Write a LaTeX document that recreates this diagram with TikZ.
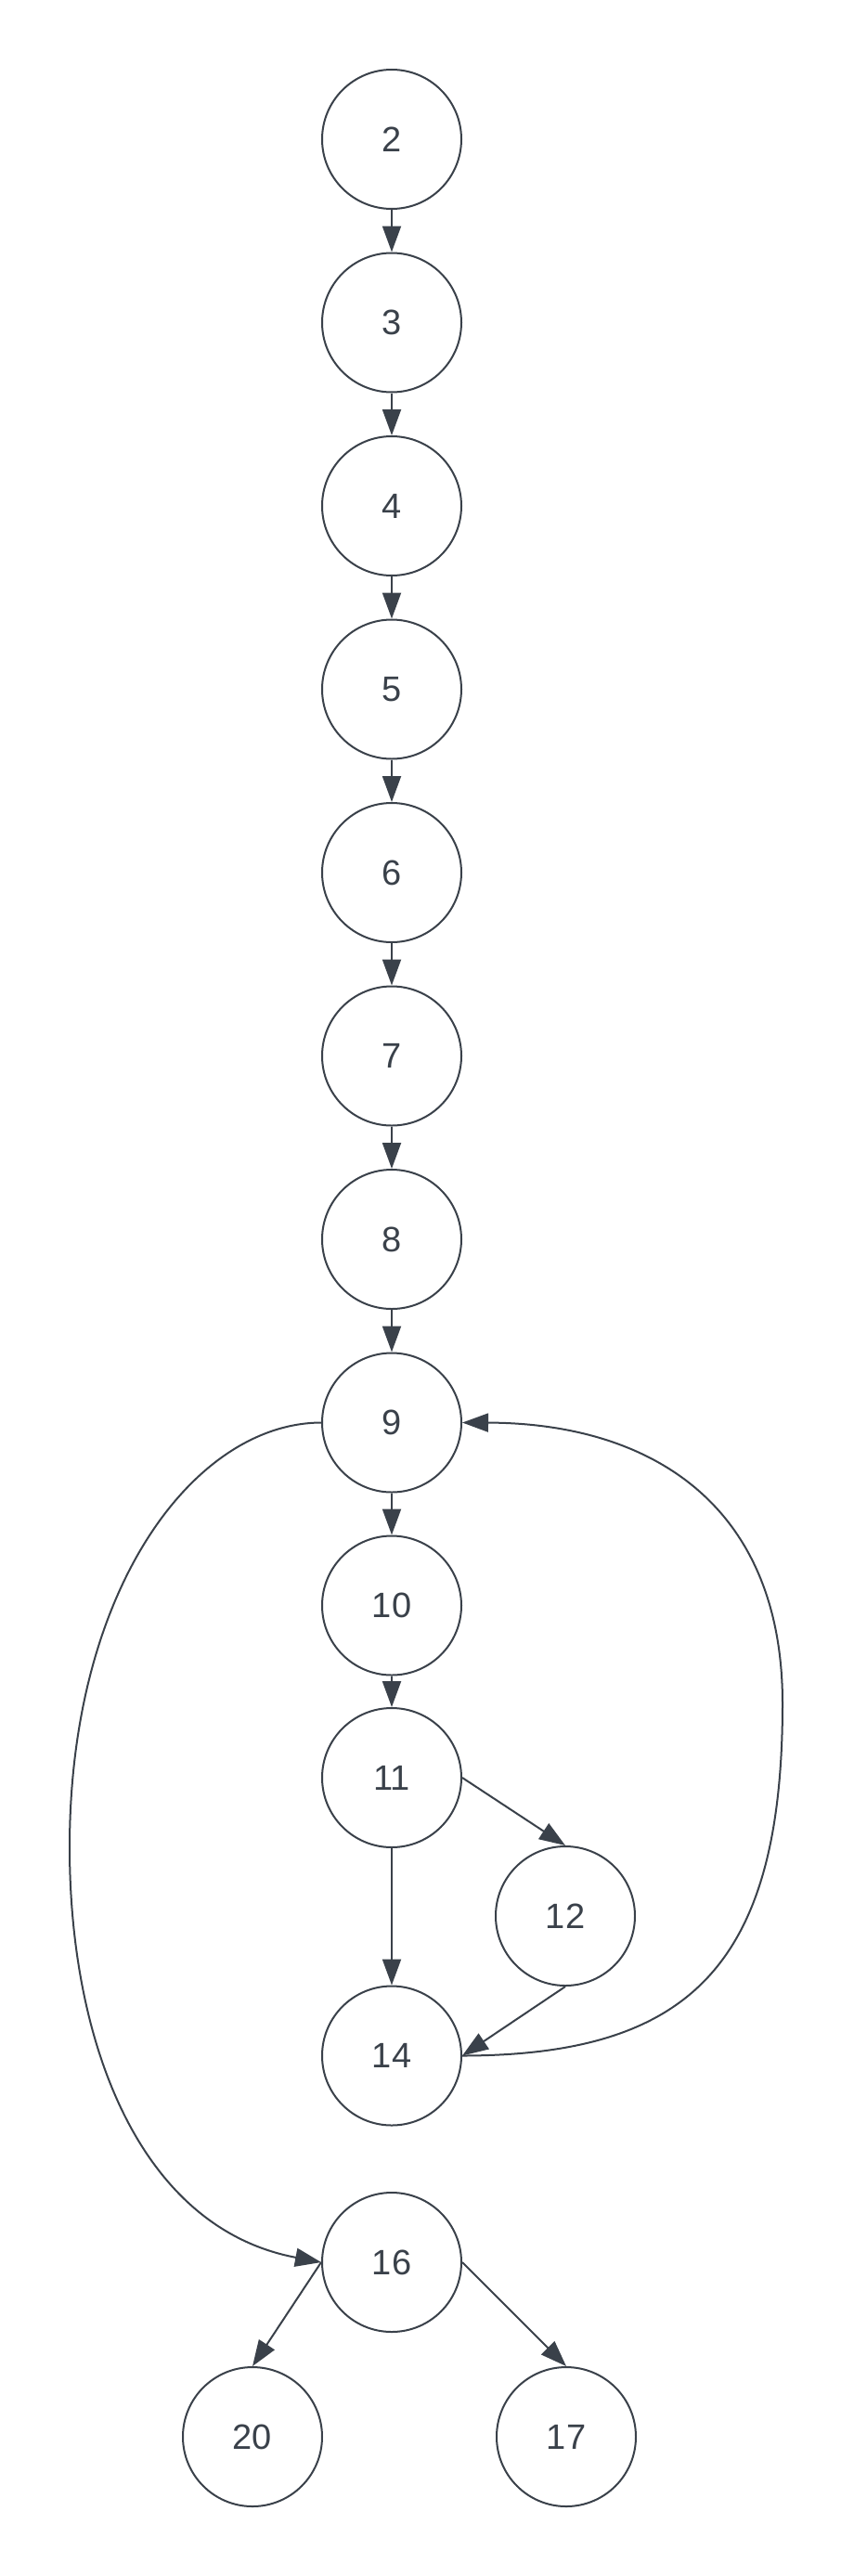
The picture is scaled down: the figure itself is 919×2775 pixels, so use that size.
\documentclass[tikz,border=0pt]{standalone}
\usepackage{fontspec}
\setmainfont{Liberation Sans}
\usetikzlibrary{arrows.meta}
\definecolor{ink}{HTML}{3A414A}
\tikzset{
  vtx/.style={circle, draw=ink, line width=2pt, minimum size=150pt, inner sep=0pt, text=ink, font=\fontsize{38}{44}\selectfont},
  edge/.style={draw=ink, line width=2pt, -{Triangle[length=28pt,width=20pt]}}
}
\begin{document}
\begin{tikzpicture}[x=1pt, y=-1pt]
\useasboundingbox (0,0) rectangle (919,2775);
\node[vtx] (n2) at (422,150) {2};
\node[vtx] (n3) at (422,347.5) {3};
\node[vtx] (n4) at (422,545) {4};
\node[vtx] (n5) at (422,742.5) {5};
\node[vtx] (n6) at (422,940) {6};
\node[vtx] (n7) at (422,1137.5) {7};
\node[vtx] (n8) at (422,1335) {8};
\node[vtx] (n9) at (422,1532.5) {9};
\node[vtx] (n10) at (422,1729.5) {10};
\node[vtx] (n11) at (422,1915) {11};
\node[vtx] (n12) at (609,2064) {12};
\node[vtx] (n14) at (422,2214.5) {14};
\node[vtx] (n16) at (422,2437) {16};
\node[vtx] (n20) at (272,2625) {20};
\node[vtx] (n17) at (610,2625) {17};
\coordinate (lft) at (75,1990);
\coordinate (rgt) at (843,1835);
\draw[edge] (n2.south) -- (n3.north);
\draw[edge] (n3.south) -- (n4.north);
\draw[edge] (n4.south) -- (n5.north);
\draw[edge] (n5.south) -- (n6.north);
\draw[edge] (n6.south) -- (n7.north);
\draw[edge] (n7.south) -- (n8.north);
\draw[edge] (n8.south) -- (n9.north);
\draw[edge] (n9.south) -- (n10.north);
\draw[edge] (n10.south) -- (n11.north);
\draw[edge] (n11.south) -- (n14.north);
\draw[edge] (n11.east) -- (n12.north);
\draw[edge] (n12.south) -- (n14.east);
\draw[edge] (n16.west) -- (n20.north);
\draw[edge] (n16.east) -- (n17.north);
\draw[edge] (n9.west) .. controls (210,1533) and (75,1710) .. (lft)
  .. controls (75,2200) and (150,2400) .. (n16.west);
\draw[edge] (n14.east) .. controls (740,2214) and (843,2120) .. (rgt)
  .. controls (843,1620) and (700,1533) .. (n9.east);
\end{tikzpicture}
\end{document}
